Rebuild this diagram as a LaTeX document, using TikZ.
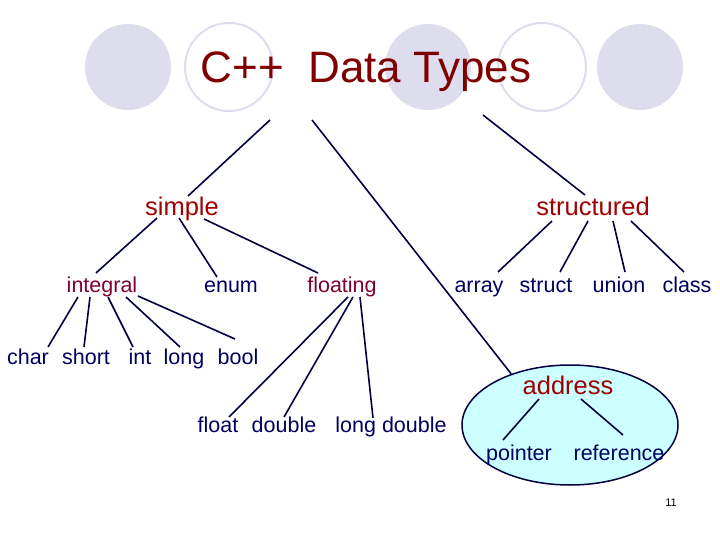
\documentclass[tikz,border=0pt]{standalone}
\usepackage{fontspec}
\setmainfont{Liberation Sans}
\usepackage{xcolor}
\usetikzlibrary{shapes,positioning,calc}

\definecolor{titlered}{RGB}{128,0,0}
\definecolor{groupred}{RGB}{160,0,0}
\definecolor{kindred}{RGB}{128,0,48}
\definecolor{typenavy}{RGB}{0,0,96}
\definecolor{linknavy}{RGB}{0,0,64}
\definecolor{bubble}{RGB}{221,221,238}
\definecolor{addrfill}{RGB}{204,255,255}

\begin{document}
\begin{tikzpicture}[x=1pt, y=-1pt,
    heading/.style={anchor=base, inner sep=0pt, text=titlered, font=\fontsize{44}{48}\selectfont},
    category/.style={anchor=base, inner sep=0pt, text=groupred, font=\fontsize{25.5}{28}\selectfont},
    family/.style={anchor=base, inner sep=0pt, text=kindred, font=\fontsize{21.5}{24}\selectfont},
    basetype/.style={anchor=base, inner sep=0pt, text=typenavy, font=\fontsize{21.5}{24}\selectfont},
    bubblefill/.style={fill=bubble, draw=none},
    bubblering/.style={draw=bubble, line width=2pt, fill=white},
    addrzone/.style={ellipse, draw=linknavy, line width=1.5pt, fill=addrfill, minimum width=216pt, minimum height=120pt, inner sep=0pt},
    link/.style={draw=linknavy, line width=1.6pt}
]
\useasboundingbox (0,0) rectangle (720,540);

% Background circles
\fill[bubblefill] (128,67) circle (43);
\filldraw[bubblering] (229,67) circle (44);
\fill[bubblefill] (428,67) circle (43);
\filldraw[bubblering] (542,67) circle (44);
\fill[bubblefill] (640,67) circle (43);

% Title
\node[heading] (title) at (366,83) {C++~ Data Types};

% Address region
\node[addrzone] (addrbox) at (570,425) {};

% Categories
\node[category] (simple) at (182,215) {simple};
\node[category] (structured) at (593,215) {structured};
\node[category] (address) at (568,394) {address};

% Simple kinds
\node[family] (integral) at (102,292) {integral};
\node[basetype] (enum) at (231,292) {enum};
\node[family] (floating) at (342,292) {floating};

% Structured kinds
\node[basetype] (array) at (479,292) {array};
\node[basetype] (struct) at (546,292) {struct};
\node[basetype] (union) at (619,292) {union};
\node[basetype] (class) at (687,292) {class};

% Integral types
\node[basetype] (char) at (28,364) {char};
\node[basetype] (short) at (86,364) {short};
\node[basetype] (int) at (140,364) {int};
\node[basetype] (long) at (184,364) {long};
\node[basetype] (bool) at (238,364) {bool};

% Floating types
\node[basetype] (float) at (218,432) {float};
\node[basetype] (double) at (284,432) {double};
\node[basetype] (longdouble) at (391,432) {long double};

% Address types
\node[basetype] (pointer) at (519,460) {pointer};
\node[basetype] (reference) at (619,460) {reference};

% Page number
\node[anchor=base, inner sep=0pt, font=\fontsize{11}{12}\selectfont] (pagenum) at (671,506) {11};

% Top level links
\draw[link] ([shift={(-96,37)}]title.base) -- ([shift={(6,-19)}]simple.base);
\draw[link] ([shift={(-54,37)}]title.base) -- (addrbox.139);
\draw[link] ([shift={(117,32)}]title.base) -- ([shift={(-8,-20)}]structured.base);

% Simple links
\draw[link] ([shift={(-25,3)}]simple.base) -- ([shift={(-6,-19)}]integral.base);
\draw[link] ([shift={(-3,3)}]simple.base) -- ([shift={(-14,-15)}]enum.base);
\draw[link] ([shift={(22,4)}]simple.base) -- ([shift={(-24,-19)}]floating.base);

% Integral links
\draw[link] ([shift={(-24,5)}]integral.base) -- ([shift={(20,-17)}]char.base);
\draw[link] ([shift={(-12,5)}]integral.base) -- ([shift={(-2,-17)}]short.base);
\draw[link] ([shift={(6,5)}]integral.base) -- ([shift={(-7,-17)}]int.base);
\draw[link] ([shift={(24,5)}]integral.base) -- ([shift={(-4,-17)}]long.base);
\draw[link] ([shift={(36,4)}]integral.base) -- ([shift={(-3,-25)}]bool.base);

% Floating links
\draw[link] ([shift={(6,5)}]floating.base) -- ([shift={(11,-15)}]float.base);
\draw[link] ([shift={(11,5)}]floating.base) -- ([shift={(0,-15)}]double.base);
\draw[link] ([shift={(18,5)}]floating.base) -- ([shift={(-18,-14)}]longdouble.base);

% Structured links
\draw[link] ([shift={(-41,6)}]structured.base) -- ([shift={(19,-20)}]array.base);
\draw[link] ([shift={(-5,6)}]structured.base) -- ([shift={(14,-20)}]struct.base);
\draw[link] ([shift={(20,6)}]structured.base) -- ([shift={(6,-20)}]union.base);
\draw[link] ([shift={(38,6)}]structured.base) -- ([shift={(-3,-20)}]class.base);

% Address links
\draw[link] ([shift={(-29,5)}]address.base) -- ([shift={(-16,-20)}]pointer.base);
\draw[link] ([shift={(13,5)}]address.base) -- ([shift={(4,-25)}]reference.base);

\end{tikzpicture}
\end{document}
